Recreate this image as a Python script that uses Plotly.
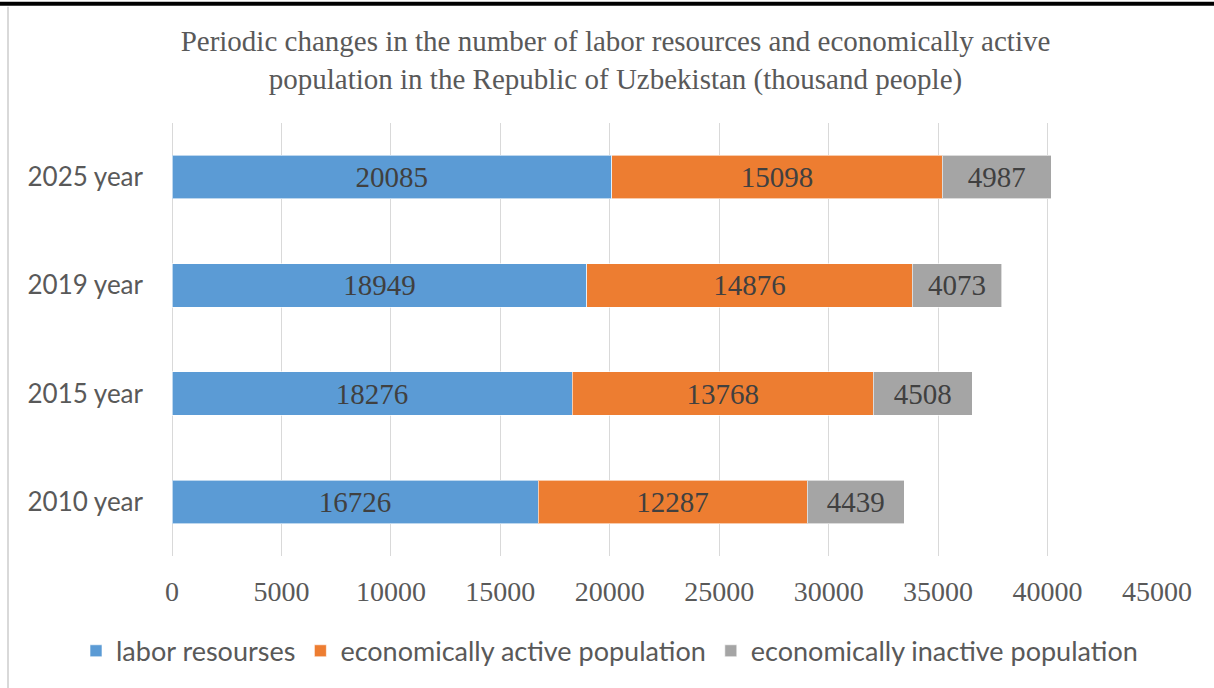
import plotly.graph_objects as go

years = ["2010 year", "2015 year", "2019 year", "2025 year"]
labor = [16726, 18276, 18949, 20085]
active = [12287, 13768, 14876, 15098]
inactive = [4439, 4508, 4073, 4987]
series_names = ["labor resourses", "economically active population", "economically inactive population"]
colors = ["#5B9BD5", "#ED7D31", "#A5A5A5"]
x_ticks = [0, 5000, 10000, 15000, 20000, 25000, 30000, 35000, 40000, 45000]

serif = "Liberation Serif, Times New Roman, serif"
sans = "Lato, Open Sans, sans-serif"

fig = go.Figure()
for name, vals, col in zip(series_names, [labor, active, inactive], colors):
    fig.add_trace(go.Bar(
        y=years, x=vals, name=name, orientation="h",
        marker=dict(color=col, line=dict(color="rgba(255,255,255,0.6)", width=1)),
        text=[str(v) for v in vals], textposition="inside", insidetextanchor="middle",
        textangle=0, constraintext="none",
        textfont=dict(family=serif, size=29, color="#404040"),
    ))

fig.update_layout(
    barmode="stack", bargap=0.6,
    width=1214, height=688,
    margin=dict(l=172, r=57, t=123, b=132),
    paper_bgcolor="white", plot_bgcolor="white",
    title=dict(
        text="Periodic changes in the number of labor resources and economically active<br>population in the Republic of Uzbekistan (thousand people)",
        x=0.507, xanchor="center", y=1 - 51 / 688, yanchor="middle", yref="container",
        font=dict(family=serif, size=29, color="#595959"),
    ),
    xaxis=dict(
        range=[0, 45000], tickvals=x_ticks, ticktext=[str(t) for t in x_ticks],
        showgrid=True, gridcolor="#D9D9D9", gridwidth=1,
        zeroline=True, zerolinecolor="#D9D9D9", zerolinewidth=1,
        showline=False, ticks="", ticklabelstandoff=16,
        tickfont=dict(family=serif, size=28, color="#595959"),
    ),
    yaxis=dict(
        categoryorder="array", categoryarray=years, range=[-0.5, 3.5],
        showgrid=False, showline=False, ticks="", ticklabelstandoff=28,
        tickfont=dict(family=sans, size=26, color="#595959"),
    ),
    legend=dict(
        orientation="h", xref="paper", x=(76 - 172) / 985, xanchor="left",
        yref="paper", y=(556 - 651) / 432, yanchor="middle",
        font=dict(family=sans, size=27, color="#595959"), itemwidth=30,
        traceorder="normal",
    ),
    showlegend=True,
    shapes=[
        dict(type="line", xref="paper", yref="paper", x0=-0.2, x1=1.1,
             y0=(556 - 5) / 432, y1=(556 - 5) / 432,
             line=dict(color="black", width=4), layer="above"),
        dict(type="line", xref="paper", yref="paper", x0=(8 - 172) / 985, x1=(8 - 172) / 985,
             y0=(556 - 8) / 432, y1=(556 - 688) / 432, line=dict(color="#D9D9D9", width=2)),
    ],
)

fig.write_html("out.html", config={"displayModeBar": False},
               post_script="document.body.style.margin='0';document.body.style.overflow='hidden';")
